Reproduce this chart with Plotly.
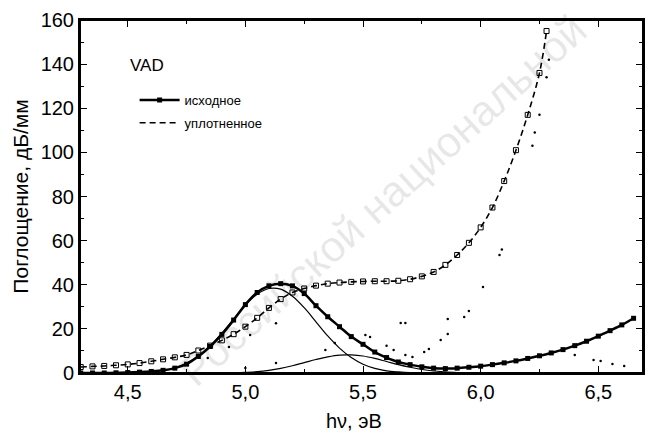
import plotly.graph_objects as go

# исходное (filled squares, thick line)
x_ish = [4.30, 4.35, 4.40, 4.45, 4.50, 4.55, 4.60, 4.65, 4.70, 4.75, 4.80, 4.85, 4.90, 4.95,
         5.00, 5.05, 5.10, 5.15, 5.20, 5.25, 5.30, 5.35, 5.40, 5.45, 5.50, 5.55, 5.60, 5.65,
         5.70, 5.75, 5.80, 5.85, 5.90, 5.95, 6.00, 6.05, 6.10, 6.15, 6.20, 6.25, 6.30, 6.35,
         6.40, 6.45, 6.50, 6.55, 6.60, 6.65]
y_ish = [0.0, 0.0, 0.0, 0.1, 0.2, 0.4, 0.7, 1.2, 2.2, 4.0, 7.5, 12.0, 17.5, 24.0,
         31.0, 36.5, 39.5, 40.5, 39.5, 36.0, 30.5, 25.5, 21.0, 16.5, 13.0, 9.5, 7.0, 5.0,
         3.8, 2.8, 2.2, 2.0, 2.2, 2.6, 3.1, 3.8, 4.6, 5.5, 6.6, 7.8, 9.1, 10.6,
         12.4, 14.4, 16.7, 19.2, 21.8, 24.8]

# уплотненное (open squares, dashed line)
x_upl = [4.30, 4.35, 4.40, 4.45, 4.50, 4.55, 4.60, 4.65, 4.70, 4.75, 4.80, 4.85, 4.90, 4.95,
         5.00, 5.05, 5.10, 5.15, 5.20, 5.25, 5.30, 5.35, 5.40, 5.45, 5.50, 5.55, 5.60, 5.65,
         5.70, 5.75, 5.80, 5.85, 5.90, 5.95, 6.00, 6.05, 6.10, 6.15, 6.20, 6.25, 6.28]
y_upl = [2.7, 3.0, 3.2, 3.5, 3.9, 4.5, 5.3, 6.2, 7.1, 8.2, 10.2, 12.4, 14.8, 17.6,
         21.0, 25.0, 29.5, 33.5, 36.5, 38.3, 39.6, 40.5, 41.0, 41.3, 41.5, 41.6, 41.6, 41.8,
         42.5, 43.8, 45.8, 49.0, 53.5, 59.0, 66.0, 75.0, 87.0, 101.0, 117.0, 136.0, 155.0]

# thin fitted bands
x_fit1 = [4.60, 4.65, 4.70, 4.75, 4.80, 4.85, 4.90, 4.95, 5.00, 5.05, 5.10, 5.15,
          5.20, 5.25, 5.30, 5.35, 5.40, 5.45, 5.50, 5.55, 5.60, 5.65, 5.70, 5.75]
y_fit1 = [0.6, 1.2, 2.4, 4.5, 7.8, 12.3, 18.1, 24.5, 30.7, 35.7, 38.3, 38.0,
          34.8, 29.6, 23.2, 16.8, 11.3, 7.0, 4.0, 2.1, 1.0, 0.5, 0.2, 0.1]

x_fit2 = [4.95, 5.00, 5.05, 5.10, 5.15, 5.20, 5.25, 5.30, 5.35, 5.40, 5.45, 5.50,
          5.55, 5.60, 5.65, 5.70, 5.75, 5.80, 5.85, 5.90]
y_fit2 = [0.1, 0.3, 0.6, 1.2, 2.1, 3.3, 4.7, 6.1, 7.3, 8.1, 8.2, 7.7,
          6.6, 5.2, 3.8, 2.6, 1.6, 0.9, 0.5, 0.2]

# scattered dots of the dotted curves (partly lost in the scan)
x_dots = [4.84, 4.93, 5.02, 5.13, 5.34, 5.38, 5.51, 5.53, 5.60, 5.63, 5.66, 5.68, 5.68,
          5.71, 5.76, 5.78, 5.83, 5.86, 5.86, 5.93, 5.95, 6.01, 6.08, 6.09, 6.22, 6.23,
          6.25, 6.28, 6.29, 6.40, 6.48, 6.51, 6.56, 6.61, 5.00, 5.13]
y_dots = [6.8, 11.8, 17.2, 22.5, 10.4, 13.6, 17.2, 16.3, 12.3, 10.4, 22.7, 22.7, 8.2,
          7.3, 9.5, 10.9, 15.0, 17.7, 24.5, 25.4, 28.1, 39.0, 53.5, 56.0, 103.0, 109.0,
          117.0, 134.0, 142.0, 8.2, 5.9, 5.4, 4.1, 3.2, 2.3, 4.5]

x_ticks = [4.5, 5.0, 5.5, 6.0, 6.5]
y_ticks = [0, 20, 40, 60, 80, 100, 120, 140, 160]

font = "Liberation Sans, Arial, sans-serif"

fig = go.Figure()

fig.add_trace(go.Scatter(x=x_dots, y=y_dots, mode="markers",
                         marker=dict(color="black", size=2.5), showlegend=False))
fig.add_trace(go.Scatter(x=x_fit1, y=y_fit1, mode="lines",
                         line=dict(color="black", width=1.2, shape="spline"), showlegend=False))
fig.add_trace(go.Scatter(x=x_fit2, y=y_fit2, mode="lines",
                         line=dict(color="black", width=1.2, shape="spline"), showlegend=False))
fig.add_trace(go.Scatter(x=x_upl, y=y_upl, mode="markers",
                         marker=dict(symbol="square-open", color="black", size=5,
                                     line=dict(width=1)),
                         showlegend=False))
fig.add_trace(go.Scatter(x=x_ish, y=y_ish, mode="lines+markers", name="исходное",
                         legendgroup="a",
                         line=dict(color="black", width=2.5, shape="spline"),
                         marker=dict(symbol="square", color="black", size=5)))
fig.add_trace(go.Scatter(x=x_upl, y=y_upl, mode="lines", name="уплотненное",
                         legendgroup="b",
                         line=dict(color="black", width=1.6, dash="6px,4px", shape="spline")))

fig.add_annotation(text="VAD", x=0.085, y=0.872, xref="paper", yref="paper",
                   xanchor="left", yanchor="middle", showarrow=False,
                   font=dict(family=font, size=17, color="black"))

# x axis title, placed a bit left of centre as in the scan
fig.add_annotation(text="hν, эВ", x=0.487, y=0, xref="paper", yref="paper",
                   yshift=-48, xanchor="center", yanchor="middle", showarrow=False,
                   font=dict(family=font, size=20, color="black"))

# library watermark across the picture
fig.add_annotation(text="Российской национальной", x=0.538, y=0.49, xref="paper", yref="paper",
                   textangle=-42, showarrow=False,
                   font=dict(family=font, size=43, color="rgba(0,0,0,0.10)"))

# closed frame round the plot area
fig.add_shape(type="rect", xref="paper", yref="paper", x0=0, x1=1, y0=0, y1=1,
              line=dict(color="black", width=2), layer="above")

axis_style = dict(
    showline=True, linecolor="black", linewidth=2, mirror="ticks",
    ticks="inside", ticklen=7, tickwidth=1.2, tickcolor="black",
    showgrid=False, zeroline=False,
    tickfont=dict(family=font, size=20, color="black"),
)

fig.update_xaxes(range=[4.297, 6.69], tickvals=x_ticks, tickformat=".1f",
                 minor=dict(dtick=0.25, tick0=4.5, ticks="inside", ticklen=4, tickcolor="black"),
                 **axis_style)
fig.update_yaxes(range=[0, 160], tickvals=y_ticks,
                 minor=dict(dtick=10, ticks="inside", ticklen=4, tickcolor="black"),
                 title=dict(text="Поглощение, дБ/мм", font=dict(family=font, size=21, color="black"),
                            standoff=6),
                 **axis_style)

fig.update_layout(
    width=650, height=435,
    margin=dict(l=80, r=5, t=20, b=62),
    paper_bgcolor="white", plot_bgcolor="white",
    separators=", ",
    showlegend=True,
    legend=dict(x=0.097, y=0.816, xanchor="left", yanchor="top", itemwidth=40,
                bgcolor="rgba(0,0,0,0)", tracegroupgap=3,
                font=dict(family=font, size=13, color="black")),
)

# drop the default body margin so the 650x435 figure fills the window exactly
fig.write_html("out.html", config={"displayModeBar": False},
               post_script="document.body.style.margin='0px';")
